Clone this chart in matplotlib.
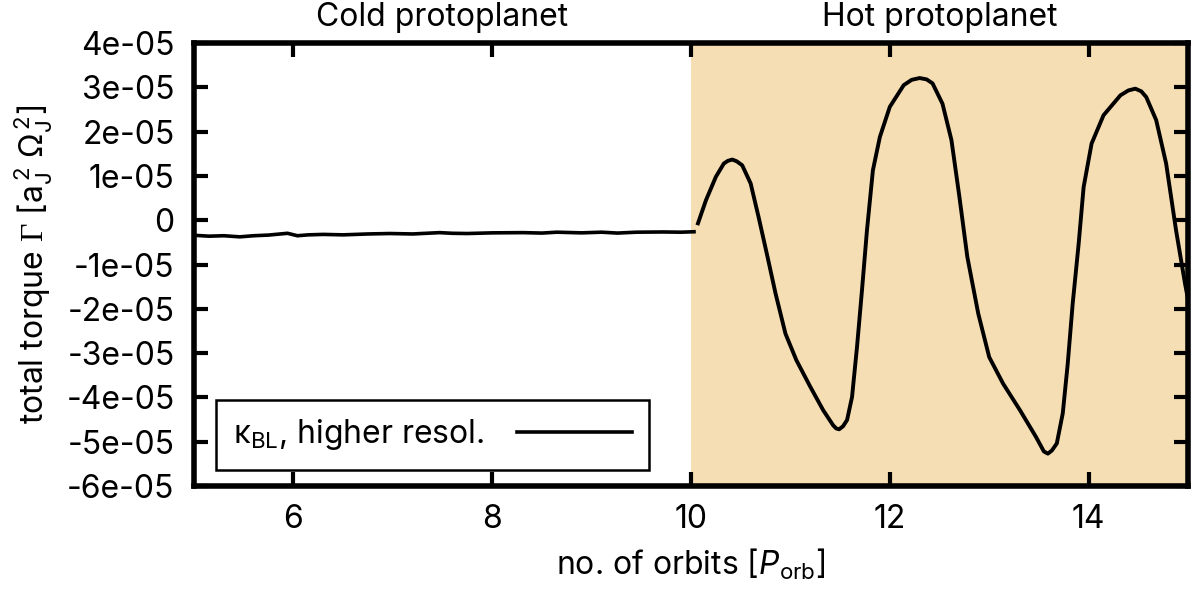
import matplotlib
matplotlib.use("Agg")
import matplotlib.pyplot as plt
import matplotlib.transforms as mtransforms

# ----------------------------
# Data
# ----------------------------
cold_orbits = [5.0, 5.15, 5.3, 5.46, 5.6, 5.75, 5.94, 6.04, 6.15, 6.3, 6.5,
               6.75, 6.97, 7.2, 7.47, 7.6, 7.75, 8.0, 8.31, 8.5, 8.65, 8.9,
               9.1, 9.26, 9.45, 9.72, 9.9, 10.03]
cold_torque = [-3.4e-6, -3.6e-6, -3.5e-6, -3.75e-6, -3.5e-6, -3.35e-6, -2.95e-6,
               -3.5e-6, -3.3e-6, -3.2e-6, -3.3e-6, -3.1e-6, -3.0e-6, -3.1e-6,
               -2.8e-6, -2.95e-6, -3.0e-6, -2.85e-6, -2.8e-6, -2.9e-6, -2.7e-6,
               -2.85e-6, -2.7e-6, -2.9e-6, -2.7e-6, -2.65e-6, -2.7e-6, -2.6e-6]

hot_orbits = [10.07, 10.15, 10.25, 10.33, 10.37, 10.415, 10.46, 10.515, 10.6,
              10.68, 10.77, 10.85, 10.95, 11.06, 11.2, 11.33, 11.43, 11.46,
              11.49, 11.53, 11.57, 11.62, 11.67, 11.72, 11.77, 11.83, 11.9,
              12.0, 12.14, 12.22, 12.3, 12.37, 12.43, 12.53, 12.62, 12.7,
              12.78, 12.89, 13.0, 13.14, 13.31, 13.47, 13.55, 13.59, 13.63,
              13.68, 13.74, 13.79, 13.84, 13.9, 13.95, 14.03, 14.15, 14.32,
              14.4, 14.47, 14.53, 14.58, 14.68, 14.78, 14.88, 14.97, 15.04]
hot_torque = [-0.07e-5, 0.45e-5, 0.98e-5, 1.28e-5, 1.34e-5, 1.37e-5, 1.33e-5,
              1.24e-5, 0.83e-5, 0.07e-5, -0.83e-5, -1.65e-5, -2.56e-5,
              -3.16e-5, -3.76e-5, -4.29e-5, -4.63e-5, -4.70e-5, -4.72e-5,
              -4.65e-5, -4.51e-5, -3.99e-5, -2.86e-5, -1.58e-5, -0.23e-5,
              1.13e-5, 1.88e-5, 2.56e-5, 3.05e-5, 3.17e-5, 3.21e-5, 3.18e-5,
              3.09e-5, 2.63e-5, 1.81e-5, 0.53e-5, -0.83e-5, -2.11e-5, -3.09e-5,
              -3.69e-5, -4.29e-5, -4.89e-5, -5.22e-5, -5.27e-5, -5.20e-5,
              -5.04e-5, -4.36e-5, -3.24e-5, -1.88e-5, -0.53e-5, 0.75e-5,
              1.73e-5, 2.37e-5, 2.82e-5, 2.93e-5, 2.97e-5, 2.91e-5, 2.78e-5,
              2.26e-5, 1.28e-5, -0.23e-5, -1.43e-5, -2.26e-5]

x_ticks = [6, 8, 10, 12, 14]
y_ticks = [-6e-5, -5e-5, -4e-5, -3e-5, -2e-5, -1e-5, 0, 1e-5, 2e-5, 3e-5, 4e-5]
y_ticklabels = ["-6e-05", "-5e-05", "-4e-05", "-3e-05", "-2e-05", "-1e-05",
                "0", "1e-05", "2e-05", "3e-05", "4e-05"]
hot_start, hot_end = 10, 15

# ----------------------------
# Style
# ----------------------------
fam = "Inter"
plt.rcParams["font.family"] = [fam, "DejaVu Sans"]
plt.rcParams["mathtext.fontset"] = "custom"
plt.rcParams["mathtext.rm"] = fam
plt.rcParams["mathtext.it"] = fam + ":italic"
plt.rcParams["mathtext.bf"] = fam + ":bold"
plt.rcParams["mathtext.sf"] = "Liberation Serif"

fs = 23

# ----------------------------
# Plot
# ----------------------------
fig = plt.figure(figsize=(12, 5.98), dpi=100)
ax = fig.add_axes([0.1617, 0.1873, 0.8283, 0.7407])

ax.axvspan(hot_start, hot_end, color="#F5DEB3", lw=0, zorder=0)
ax.plot(cold_orbits, cold_torque, color="black", lw=2.6, zorder=3,
        label="κ$_{\\rm BL}$, higher resol.")
ax.plot(hot_orbits, hot_torque, color="black", lw=2.8, zorder=3)

ax.set_xlim(5, 15)
ax.set_ylim(-6e-5, 4e-5)
ax.set_xticks(x_ticks)
ax.set_yticks(y_ticks)
ax.set_yticklabels(y_ticklabels)

ax.tick_params(direction="in", length=10, width=3, top=True, right=True,
               labelsize=fs, colors="black")
ax.tick_params(axis="x", pad=13)
ax.tick_params(axis="y", pad=14)
for sp in ax.spines.values():
    sp.set_linewidth(4)
    sp.set_zorder(5)

ax.set_xlabel(r"no. of orbits [$P_{\rm orb}$]", fontsize=fs, labelpad=8)
ax.set_ylabel(r"total torque $\mathsf{\Gamma}$ [a$_{\rm J}^{\,2}$ $\Omega_{\rm J}^{\,2}$]",
              fontsize=fs, labelpad=8)

trans = mtransforms.blended_transform_factory(ax.transData, ax.transAxes)
ax.text(7.5, 1.022, "Cold protoplanet", transform=trans, ha="center",
        va="bottom", fontsize=fs)
ax.text(12.5, 1.022, "Hot protoplanet", transform=trans, ha="center",
        va="bottom", fontsize=fs)

leg = ax.legend(loc="lower left", bbox_to_anchor=(0.022, 0.036),
                borderaxespad=0, fontsize=fs, markerfirst=False,
                handlelength=3.6, handletextpad=1.0, borderpad=0.55,
                fancybox=False, framealpha=1, edgecolor="black")
leg.get_frame().set_linewidth(1.8)
leg.set_zorder(6)

fig.savefig("out.png", dpi=100)
plt.close(fig)
